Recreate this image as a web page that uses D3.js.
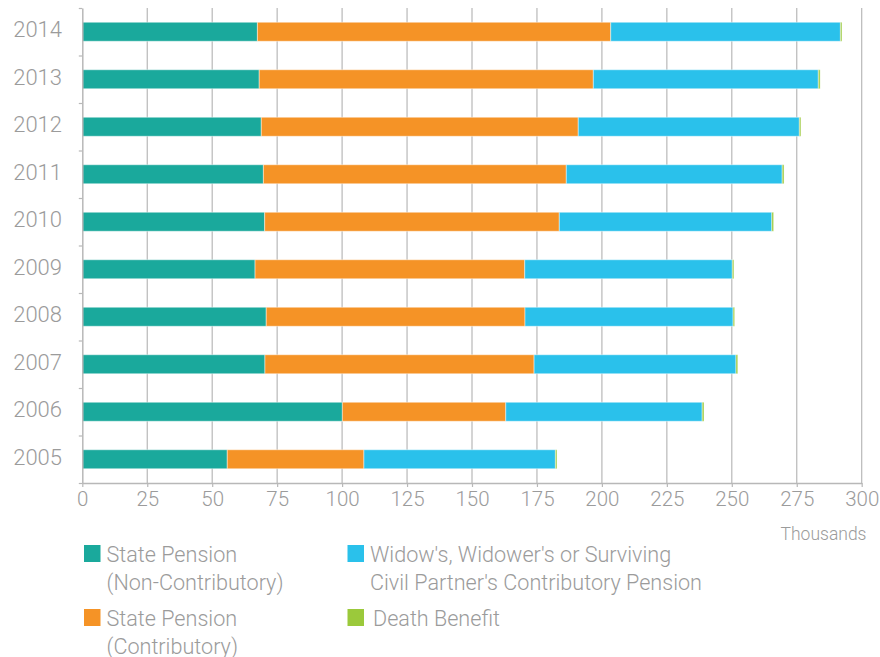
<!DOCTYPE html>
<html>
<head>
<meta charset="utf-8">
<script src="https://cdn.jsdelivr.net/npm/d3@7"></script>
<style>
  html, body { margin: 0; padding: 0; background: #fff; }
  svg { display: block; font-family: Roboto, "Liberation Sans", sans-serif; font-weight: 300; }
</style>
</head>
<body>
<svg id="chart" width="880" height="657"></svg>
<script>
// pensioners by scheme, thousands
const anos = ["2014", "2013", "2012", "2011", "2010", "2009", "2008", "2007", "2006", "2005"];
const naoContrib = [67.4, 68.1, 68.9, 69.7, 70.2, 66.5, 70.8, 70.3, 100.1, 55.8];
const contrib    = [136.0, 128.6, 122.0, 116.6, 113.4, 103.8, 99.6, 103.6, 62.9, 52.6];
const viuvez     = [88.4, 86.6, 85.1, 83.1, 81.8, 79.9, 80.1, 77.7, 75.6, 73.7];
const morte      = [0.6, 0.7, 0.6, 0.7, 0.7, 0.6, 0.6, 0.7, 0.7, 0.6];
const xTicks = [0, 25, 50, 75, 100, 125, 150, 175, 200, 225, 250, 275, 300];

const series = [
  { key: "nc", nome: ["State Pension", "(Non-Contributory)"], vals: naoContrib, cor: "#1aa99c" },
  { key: "c",  nome: ["State Pension", "(Contributory)"], vals: contrib, cor: "#f59326" },
  { key: "v",  nome: ["Widow's, Widower's or Surviving", "Civil Partner's Contributory Pension"], vals: viuvez, cor: "#2ac1eb" },
  { key: "m",  nome: ["Death Benefit"], vals: morte, cor: "#9bc93b" },
];

const linhas = anos.map((a, i) => {
  const r = { ano: a };
  series.forEach((s) => { r[s.key] = s.vals[i]; });
  return r;
});

const svg = d3.select("#chart");
const CINZA = "#9b9b9b", GRADE = "#b8b8b8";
const yTopo = 8, yBase = 483, xEsq = 82.3, xDir = 861.7;

const x = d3.scaleLinear().domain([0, 300]).range([xEsq, xDir]);
const y = d3.scaleBand().domain(anos).range([yTopo, yBase]).paddingInner(0.6).paddingOuter(0.3);

// grade vertical
svg.append("g").selectAll("line").data(xTicks.slice(1)).join("line")
  .attr("x1", (d) => x(d)).attr("x2", (d) => x(d))
  .attr("y1", yTopo).attr("y2", yBase)
  .attr("stroke", GRADE).attr("stroke-width", 1.2);

// barras empilhadas
const pilha = d3.stack().keys(series.map((s) => s.key))(linhas);
svg.append("g").selectAll("g").data(pilha).join("g")
  .attr("fill", (d, i) => series[i].cor)
  .selectAll("rect").data((d) => d).join("rect")
  .attr("x", (d) => x(d[0]))
  .attr("width", (d) => x(d[1]) - x(d[0]))
  .attr("y", (d) => y(d.data.ano))
  .attr("height", y.bandwidth())
  .attr("stroke", "#fff").attr("stroke-opacity", 0.45).attr("stroke-width", 1);

// eixo x
const gx = svg.append("g").attr("transform", `translate(0,${yBase})`)
  .call(d3.axisBottom(x).tickValues(xTicks).tickSize(4).tickSizeOuter(0).tickPadding(4));
gx.select(".domain").attr("stroke", GRADE).attr("stroke-width", 1.5);
gx.selectAll(".tick line").attr("stroke", GRADE).attr("stroke-width", 1.2);
gx.selectAll("text").attr("fill", CINZA)
  .style("font-size", "20.5px").style("font-family", "Roboto, sans-serif").style("font-weight", 300);

// eixo y: marcas nas fronteiras das faixas
const yb = d3.scaleLinear().domain([0, anos.length]).range([yTopo, yBase]);
const gy = svg.append("g").attr("transform", `translate(${xEsq},0)`)
  .call(d3.axisLeft(yb).ticks(anos.length).tickSize(3.5).tickSizeOuter(0).tickFormat(""));
gy.select(".domain").attr("stroke", GRADE).attr("stroke-width", 1.5);
gy.selectAll(".tick line").attr("stroke", GRADE).attr("stroke-width", 1.2);

svg.append("g").selectAll("text").data(anos).join("text")
  .attr("x", 62).attr("y", (d) => y(d) + y.bandwidth() / 2)
  .attr("dy", "0.25em").attr("text-anchor", "end")
  .attr("fill", CINZA).style("font-size", "22px")
  .text((d) => d);

svg.append("text").attr("x", 866.5).attr("y", 540)
  .attr("text-anchor", "end").attr("fill", CINZA)
  .style("font-size", "17.5px").text("Thousands");

// legenda
const posLeg = [[84, 545], [84, 609], [347.5, 545], [347.5, 609]];
const leg = svg.append("g").selectAll("g").data(series).join("g")
  .attr("transform", (d, i) => `translate(${posLeg[i][0]},${posLeg[i][1]})`);
leg.append("rect").attr("width", 16.5).attr("height", 17).attr("fill", (d) => d.cor);
leg.append("text")
  .attr("x", (d) => d.key === "m" ? 25.5 : 22.5)
  .attr("y", 17).attr("fill", CINZA).style("font-size", "21.6px")
  .selectAll("tspan").data((d) => d.nome).join("tspan")
  .attr("x", function () { return d3.select(this.parentNode).attr("x"); })
  .attr("dy", (d, i) => i === 0 ? 0 : 27.5)
  .text((d) => d);
</script>
</body>
</html>
